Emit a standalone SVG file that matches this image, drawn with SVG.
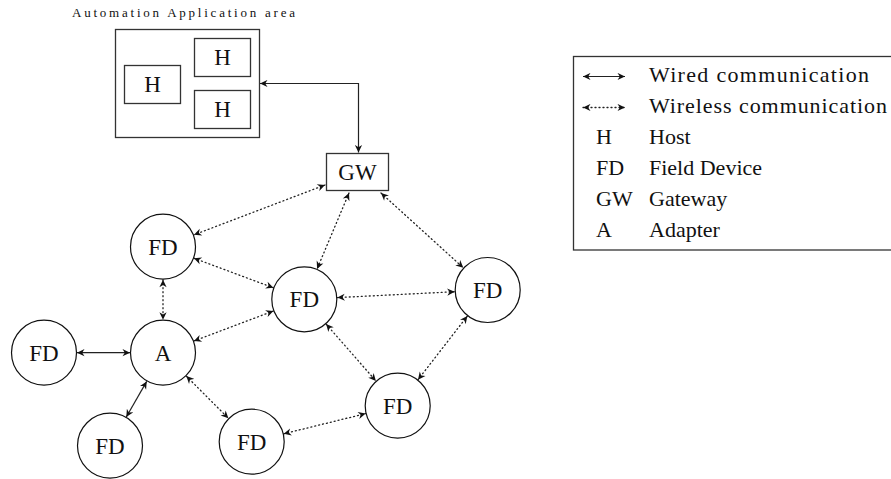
<svg xmlns="http://www.w3.org/2000/svg" width="891" height="479" viewBox="0 0 891 479">
<style>
text{font-family:"Liberation Serif","DejaVu Serif",serif;fill:#111;}
.lbl{font-size:23px;text-anchor:middle;}
.leg{font-size:22px;}
.box{fill:#fff;stroke:#333;stroke-width:1.3;}
.node{fill:#fff;stroke:#111;stroke-width:1.2;}
.wired{fill:none;stroke:#222;stroke-width:1.2;marker-start:url(#ah);marker-end:url(#ah);}
.wl{fill:none;stroke:#222;stroke-width:1.3;stroke-dasharray:1 3;stroke-linecap:round;marker-start:url(#ah);marker-end:url(#ah);}
</style>
<defs>
<marker id="ah" viewBox="-8 -4 9 8" refX="0" refY="0" markerWidth="9" markerHeight="8" markerUnits="userSpaceOnUse" orient="auto-start-reverse">
<path d="M0,0 L-7.5,-3.6 L-5.2,0 L-7.5,3.6 Z" fill="#111"/>
</marker>
</defs>
<rect width="891" height="479" fill="#fff"/>

<g id="app-area">
<text x="72" y="17" font-size="13" textLength="223" lengthAdjust="spacing">Automation Application area</text>
<rect class="box" x="115.5" y="29.5" width="144" height="108"/>
</g>
<g id="host1"><rect class="box" x="124.5" y="65.5" width="56" height="38"/><text class="lbl" x="152.5" y="92">H</text></g>
<g id="host2"><rect class="box" x="194.5" y="38.5" width="56" height="38"/><text class="lbl" x="222.5" y="65">H</text></g>
<g id="host3"><rect class="box" x="194.5" y="90.5" width="56" height="38"/><text class="lbl" x="222.5" y="117">H</text></g>
<g id="gw"><rect class="box" x="326.5" y="153.5" width="62" height="37"/><text class="lbl" x="357.5" y="180">GW</text></g>

<g id="connectors">
<path class="wired" d="M260,83.5 H358.5 V152.5"/>
<line class="wired" x1="77" y1="352.7" x2="130" y2="352.7"/>
<line class="wired" x1="146.7" y1="381.4" x2="126.3" y2="417"/>
<line class="wl" x1="325" y1="185" x2="194" y2="234.8"/>
<line class="wl" x1="349" y1="193" x2="317.1" y2="268.9"/>
<line class="wl" x1="381" y1="193" x2="463.3" y2="267.8"/>
<line class="wl" x1="193.9" y1="258.2" x2="273.4" y2="287.8"/>
<line class="wl" x1="163" y1="279.7" x2="163" y2="319.7"/>
<line class="wl" x1="193.9" y1="341" x2="273.4" y2="311"/>
<line class="wl" x1="337.3" y1="297.6" x2="454.7" y2="291.7"/>
<line class="wl" x1="326.1" y1="324.1" x2="375.9" y2="380.9"/>
<line class="wl" x1="467.4" y1="316" x2="418" y2="379.7"/>
<line class="wl" x1="186.3" y1="376.1" x2="228.4" y2="418.3"/>
<line class="wl" x1="283.7" y1="433.8" x2="365.7" y2="413.6"/>
</g>

<g id="fd1"><circle class="node" cx="163" cy="246.7" r="32.5"/><text class="lbl" x="163" y="254.5">FD</text></g>
<g id="fdc"><circle class="node" cx="304.3" cy="299.3" r="32.5"/><text class="lbl" x="304.3" y="307">FD</text></g>
<g id="fdr"><circle class="node" cx="487.7" cy="290" r="32.5"/><text class="lbl" x="487.7" y="297.8">FD</text></g>
<g id="fdfl"><circle class="node" cx="44" cy="352.7" r="32.5"/><text class="lbl" x="44" y="360.5">FD</text></g>
<g id="adapter"><circle class="node" cx="163" cy="352.7" r="32.5"/><text class="lbl" x="163" y="360.5">A</text></g>
<g id="fdbl"><circle class="node" cx="110" cy="445.7" r="32.5"/><text class="lbl" x="110" y="453.5">FD</text></g>
<g id="fdbm"><circle class="node" cx="251.7" cy="441.7" r="32.5"/><text class="lbl" x="251.7" y="449.5">FD</text></g>
<g id="fdbr"><circle class="node" cx="397.7" cy="405.7" r="32.5"/><text class="lbl" x="397.7" y="413.5">FD</text></g>

<g id="legend">
<rect class="box" x="573.5" y="56.5" width="330" height="193.5"/>
<line class="wired" x1="583" y1="76.5" x2="625" y2="76.5"/>
<line class="wl" x1="583" y1="107.5" x2="625" y2="107.5"/>
<text class="leg" x="649" y="82" textLength="220" lengthAdjust="spacing">Wired communication</text>
<text class="leg" x="649" y="113" textLength="238" lengthAdjust="spacing">Wireless communication</text>
<text class="leg" x="596" y="144">H</text><text class="leg" x="649" y="144">Host</text>
<text class="leg" x="596" y="175">FD</text><text class="leg" x="649" y="175">Field Device</text>
<text class="leg" x="596" y="206">GW</text><text class="leg" x="649" y="206">Gateway</text>
<text class="leg" x="596" y="237">A</text><text class="leg" x="649" y="237">Adapter</text>
</g>
</svg>
